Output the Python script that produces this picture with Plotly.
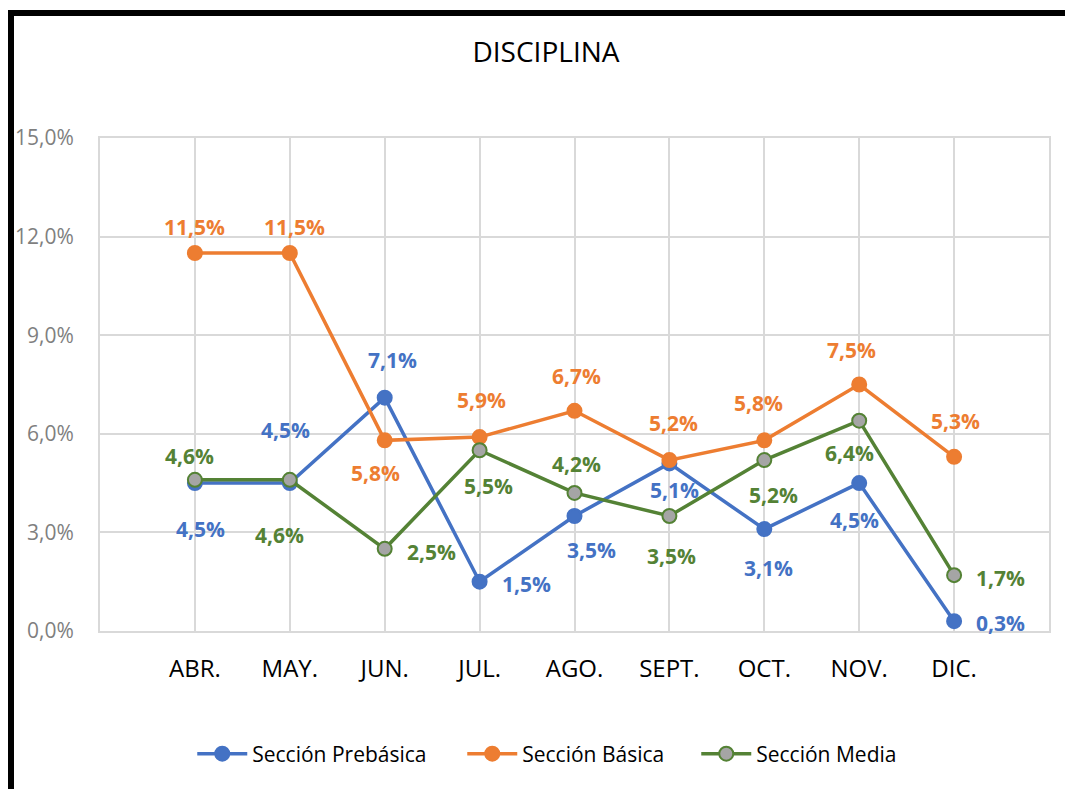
import plotly.graph_objects as go

months = ["ABR.", "MAY.", "JUN.", "JUL.", "AGO.", "SEPT.", "OCT.", "NOV.", "DIC."]
prebasica = [4.5, 4.5, 7.1, 1.5, 3.5, 5.1, 3.1, 4.5, 0.3]
basica = [11.5, 11.5, 5.8, 5.9, 6.7, 5.2, 5.8, 7.5, 5.3]
media = [4.6, 4.6, 2.5, 5.5, 4.2, 3.5, 5.2, 6.4, 1.7]
y_ticks = [0, 3, 6, 9, 12, 15]

# label offsets (pixels): (dx, dy) with dy positive = down
off_pre = [(6, 46), (-4, -53), (8, -38), (47, 2), (17, 34), (5, 27), (4, 39), (-5, 37), (46, 2)]
off_bas = [(0, -26), (5, -26), (-9, 33), (2, -37), (2, -35), (4, -37), (-6, -37), (-8, -35), (1, -36)]
off_med = [(-5, -24), (-10, 55), (47, 3), (9, 36), (2, -29), (2, 40), (9, 35), (-10, 32), (46, 3)]

BLUE = "#4472C4"
ORANGE = "#ED7D31"
GREEN = "#548235"
FONT = "Open Sans"

# page has an 8px body margin; work in page pixels and compensate
PAGE_OFF = 8
W, H = 1073 - PAGE_OFF, 789 - PAGE_OFF
L, R, T, B = 100 - PAGE_OFF, 1049 - PAGE_OFF, 138 - PAGE_OFF, 631 - PAGE_OFF

fig = go.Figure()
xs = list(range(len(months)))

def px_x(p):
    return (p - PAGE_OFF - L) / (R - L)

def px_y(p):
    return (B - (p - PAGE_OFF)) / (B - T)

series = [
    ("Sección Prebásica", prebasica, BLUE, BLUE, off_pre, "legend", 197),
    ("Sección Básica", basica, ORANGE, ORANGE, off_bas, "legend2", 467),
    ("Sección Media", media, GREEN, "#A5A5A5", off_med, "legend3", 701),
]

legend_layout = {}
for name, vals, col, fill, offs, leg, lx in series:
    fig.add_trace(go.Scatter(
        x=xs, y=vals, name=name, mode="lines+markers",
        line=dict(color=col, width=3.5),
        marker=dict(size=14, color=fill, line=dict(color=col, width=2)),
        cliponaxis=False, legend=leg,
    ))
    legend_layout[leg] = dict(
        orientation="h", x=px_x(lx) - 0.005, xanchor="left",
        y=px_y(754), yanchor="middle",
        font=dict(family=FONT, size=21, color="black"),
        itemwidth=50, bgcolor="rgba(0,0,0,0)",
    )

for name, vals, col, fill, offs, leg, lx in series:
    for i, v in enumerate(vals):
        fig.add_annotation(
            x=xs[i], y=v, xref="x", yref="y",
            text=f"{v:.1f}".replace(".", ",") + "%",
            showarrow=False, xshift=offs[i][0], yshift=-offs[i][1],
            font=dict(family=FONT, size=21, color=col, weight="bold"),
        )

# black frame at top and left
fig.add_shape(type="line", xref="paper", yref="paper",
              x0=px_x(8), x1=px_x(1080), y0=px_y(13), y1=px_y(13),
              line=dict(color="black", width=6))
fig.add_shape(type="line", xref="paper", yref="paper",
              x0=px_x(11), x1=px_x(11), y0=px_y(10), y1=px_y(800),
              line=dict(color="black", width=6))

fig.update_layout(
    width=W, height=H,
    margin=dict(l=L, r=W - R, t=T, b=H - B, autoexpand=False),
    paper_bgcolor="white", plot_bgcolor="white",
    title=dict(text="DISCIPLINA", x=(546 - PAGE_OFF) / W, xanchor="center",
               xref="container",
               y=1 - (52 - PAGE_OFF) / H, yanchor="middle",
               font=dict(family=FONT, size=28, color="black")),
    xaxis=dict(
        range=[-1, len(months)], tickvals=xs, ticktext=months,
        showgrid=True, gridcolor="#D9D9D9", gridwidth=2,
        showline=True, linecolor="#D9D9D9", linewidth=2, mirror=True,
        zeroline=False, ticks="", ticklen=0, ticklabelstandoff=15,
        tickfont=dict(family=FONT, size=24, color="black"),
        fixedrange=True, automargin=False,
    ),
    yaxis=dict(
        range=[0, 15], tickvals=y_ticks,
        ticktext=[f"{t:.1f}".replace(".", ",") + "%" for t in y_ticks],
        showgrid=True, gridcolor="#D9D9D9", gridwidth=2,
        showline=True, linecolor="#D9D9D9", linewidth=2, mirror=True,
        zeroline=False, ticks="", ticklabelstandoff=20,
        tickfont=dict(family=FONT, size=21, color="#7F7F7F"),
        fixedrange=True, automargin=False,
    ),
    showlegend=True,
    **legend_layout,
)

fig.write_html("out.html")
